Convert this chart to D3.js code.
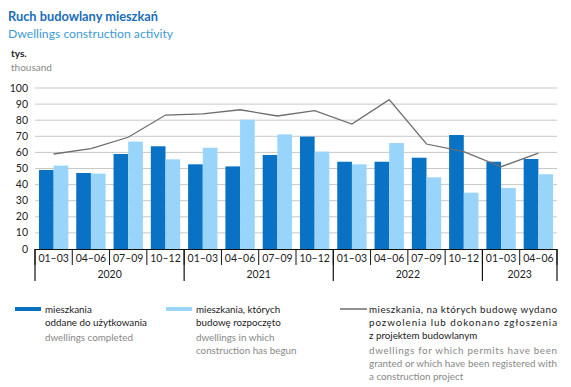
<!DOCTYPE html>
<html>
<head>
<meta charset="utf-8">
<script src="https://cdn.jsdelivr.net/npm/d3@7"></script>
<style>
  body { margin: 0; background: #fff; }
  svg { display: block; font-family: Lato, "Noto Sans", sans-serif; }
</style>
</head>
<body>
<div id="chart"></div>
<script>
const quarters = ["01–03", "04–06", "07–09", "10–12", "01–03", "04–06", "07–09", "10–12",
                  "01–03", "04–06", "07–09", "10–12", "01–03", "04–06"];
const years = ["2020", "2021", "2022", "2023"];
const quartersPerYear = [4, 4, 4, 2];
const completed = [49.1, 47.2, 59, 63.8, 52.6, 51.3, 58.4, 69.8, 54.2, 54.2, 56.7, 70.8, 54.2, 55.9];
const started = [51.8, 46.8, 66.7, 55.7, 62.9, 80.3, 71.2, 60.5, 52.6, 65.8, 44.5, 35, 37.9, 46.4];
const permits = [59, 62.3, 69.4, 83.2, 83.9, 86.5, 82.6, 85.9, 77.6, 92.8, 65.2, 60.5, 51.1, 59.6];
const yTicks = [0, 10, 20, 30, 40, 50, 60, 70, 80, 90, 100];

const W = 571, H = 387;
const DARK = "#0a72c4", LIGHT = "#99d4fa", LINE = "#6d6d6d";
const plotL = 35, plotR = 557, plotT = 88, plotB = 249;

const svg = d3.select("#chart").append("svg").attr("width", W).attr("height", H);

// titles
svg.append("text").attr("x", 8).attr("y", 21).attr("font-size", 12.8).attr("font-weight", "bold")
    .attr("fill", "#1a6db8").text("Ruch budowlany mieszkań");
svg.append("text").attr("x", 8).attr("y", 38).attr("font-size", 12.2)
    .attr("fill", "#3d9ad6").text("Dwellings construction activity");
svg.append("text").attr("x", 11).attr("y", 57).attr("font-size", 10).attr("font-weight", "bold")
    .attr("fill", "#222").text("tys.");
svg.append("text").attr("x", 11).attr("y", 71).attr("font-size", 10)
    .attr("fill", "#888").text("thousand");

const idx = d3.range(quarters.length);
const x = d3.scaleBand().domain(idx).range([plotL, plotR]);
const xInner = d3.scaleBand().domain(["c", "s"]).range([0, x.bandwidth()]).paddingOuter(0.27).paddingInner(0);
const y = d3.scaleLinear().domain([0, 100]).range([plotB, plotT]);

// grid
svg.append("g").selectAll("line").data(yTicks.slice(1)).join("line")
    .attr("x1", plotL).attr("x2", plotR)
    .attr("y1", d => y(d)).attr("y2", d => y(d))
    .attr("stroke", "#c8c8c8").attr("stroke-width", 1);

svg.append("g").selectAll("text").data(yTicks).join("text")
    .attr("x", 28).attr("y", d => y(d) + 3.5)
    .attr("text-anchor", "end").attr("font-size", 10.5).attr("fill", "#222")
    .text(d => d);

// bars
const g = svg.append("g");
g.selectAll(".c").data(completed).join("rect").attr("class", "c")
    .attr("x", (d, i) => x(i) + xInner("c")).attr("width", xInner.bandwidth())
    .attr("y", d => y(d)).attr("height", d => y(0) - y(d)).attr("fill", DARK);
g.selectAll(".s").data(started).join("rect").attr("class", "s")
    .attr("x", (d, i) => x(i) + xInner("s")).attr("width", xInner.bandwidth())
    .attr("y", d => y(d)).attr("height", d => y(0) - y(d)).attr("fill", LIGHT);

// permits line
svg.append("path").datum(permits)
    .attr("d", d3.line().x((d, i) => x(i) + x.bandwidth() / 2).y(d => y(d)))
    .attr("fill", "none").attr("stroke", LINE).attr("stroke-width", 1.3);

// x axis with boxes
const ax = svg.append("g").attr("stroke", "#111");
ax.append("line").attr("x1", plotL).attr("x2", plotR).attr("y1", plotB + 0.5).attr("y2", plotB + 0.5).attr("stroke-width", 1.2);
ax.selectAll(".q").data(d3.range(quarters.length + 1)).join("line").attr("class", "q")
    .attr("x1", i => i < quarters.length ? x(i) : plotR).attr("x2", i => i < quarters.length ? x(i) : plotR)
    .attr("y1", plotB).attr("y2", 265).attr("stroke-width", 1);
let cum = 0;
const yearBounds = [0];
quartersPerYear.forEach(n => { cum += n; yearBounds.push(cum); });
ax.selectAll(".yb").data(yearBounds).join("line").attr("class", "yb")
    .attr("x1", i => i < quarters.length ? x(i) : plotR).attr("x2", i => i < quarters.length ? x(i) : plotR)
    .attr("y1", plotB).attr("y2", 281).attr("stroke-width", 1.2);

svg.append("g").selectAll("text").data(quarters).join("text")
    .attr("x", (d, i) => x(i) + x.bandwidth() / 2).attr("y", 262)
    .attr("text-anchor", "middle").attr("font-size", 10.5).attr("fill", "#222").text(d => d);
svg.append("g").selectAll("text").data(years).join("text")
    .attr("x", (d, i) => {
        const a = x(yearBounds[i]);
        const b = yearBounds[i + 1] < quarters.length ? x(yearBounds[i + 1]) : plotR;
        return (a + b) / 2;
    })
    .attr("y", 278).attr("text-anchor", "middle").attr("font-size", 10.5).attr("fill", "#222").text(d => d);

// legend
const leg = svg.append("g").attr("font-size", 9.8);
leg.append("rect").attr("x", 15).attr("y", 307).attr("width", 26).attr("height", 4).attr("fill", DARK);
[["mieszkania", 313, "#222"], ["oddane do użytkowania", 326, "#222"], ["dwellings completed", 341, "#888"]]
    .forEach(([t, yy, c]) => leg.append("text").attr("x", 45).attr("y", yy).attr("fill", c).text(t));

leg.append("rect").attr("x", 166).attr("y", 307).attr("width", 26).attr("height", 4).attr("fill", LIGHT);
[["mieszkania, których", 313, "#222"], ["budowę rozpoczęto", 326, "#222"],
 ["dwellings in which", 341, "#888"], ["construction has begun", 354, "#888"]]
    .forEach(([t, yy, c]) => leg.append("text").attr("x", 196).attr("y", yy).attr("fill", c).text(t));

leg.append("line").attr("x1", 340).attr("x2", 367).attr("y1", 309).attr("y2", 309)
    .attr("stroke", LINE).attr("stroke-width", 1.5);
[["mieszkania, na których budowę wydano", 313, "#222", true],
 ["pozwolenia lub dokonano zgłoszenia", 326, "#222", true],
 ["z projektem budowlanym", 339, "#222", false],
 ["dwellings for which permits have been", 354, "#888", true],
 ["granted or which have been registered with", 367, "#888", true],
 ["a construction project", 380, "#888", false]]
    .forEach(([t, yy, c, just]) => {
        const el = leg.append("text").attr("x", 369).attr("y", yy).attr("fill", c).text(t);
        if (just) el.attr("textLength", 188).attr("lengthAdjust", "spacing");
    });
</script>
</body>
</html>
